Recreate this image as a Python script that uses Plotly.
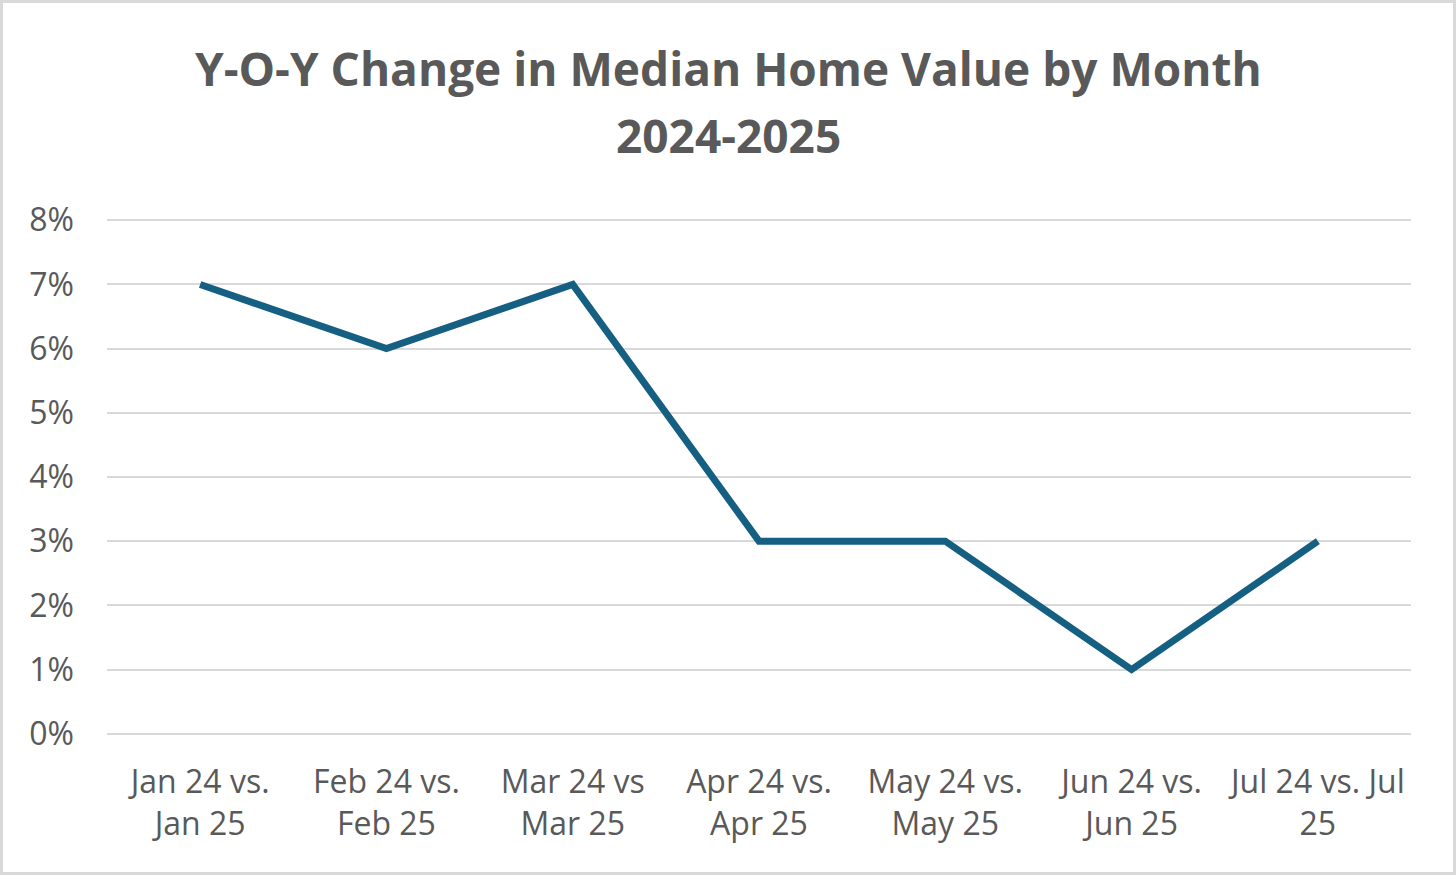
import plotly.graph_objects as go

categories = ["Jan 24 vs.<br>Jan 25", "Feb 24 vs.<br>Feb 25", "Mar 24 vs<br>Mar 25",
              "Apr 24 vs.<br>Apr 25", "May 24 vs.<br>May 25", "Jun 24 vs.<br>Jun 25",
              "Jul 24 vs. Jul<br>25"]
yoy_change = [0.07, 0.06, 0.07, 0.03, 0.03, 0.01, 0.03]
y_ticks = [0, 0.01, 0.02, 0.03, 0.04, 0.05, 0.06, 0.07, 0.08]
title_lines = ["<b>Y-O-Y Change in Median Home Value by Month</b>", "<b>2024-2025</b>"]

TEXT = "#595959"
W, H = 1456, 875
L, R, T, B = 107, 45, 219, 140
PW, PH = W - L - R, H - T - B

fig = go.Figure(go.Scatter(
    x=categories, y=yoy_change, mode="lines",
    line=dict(color="#156082", width=7),
    hoverinfo="skip",
))

fig.update_layout(
    width=W, height=H,
    paper_bgcolor="white", plot_bgcolor="white",
    margin=dict(l=L, r=R, t=T, b=B),
    showlegend=False,
    font=dict(family="Open Sans", color=TEXT),
    xaxis=dict(
        range=[-0.5, len(categories) - 0.5],
        showgrid=False, showline=False, zeroline=False,
        tickfont=dict(size=32, color=TEXT, family="Open Sans"),
        ticklabelstandoff=25,
    ),
    yaxis=dict(
        range=[-0.0002, 0.0802], tickvals=y_ticks, tickformat=".0%",
        showgrid=True, gridcolor="#d9d9d9", gridwidth=2,
        zeroline=False, showline=False,
        tickfont=dict(size=32, color=TEXT, family="Open Sans"),
        ticklabelstandoff=32,
    ),
    annotations=[
        dict(text=title_lines[0], xref="paper", yref="paper",
             x=(728 - L) / PW, y=1 + (T - 68) / PH, xanchor="center", yanchor="middle",
             showarrow=False, font=dict(size=46, color=TEXT, family="Open Sans")),
        dict(text=title_lines[1], xref="paper", yref="paper",
             x=(728 - L) / PW, y=1 + (T - 135) / PH, xanchor="center", yanchor="middle",
             showarrow=False, font=dict(size=46, color=TEXT, family="Open Sans")),
    ],
    shapes=[dict(type="rect", xref="paper", yref="paper",
                 x0=-(L - 1.5) / PW, x1=1 + (R - 1.5) / PW,
                 y0=-(B - 1.5) / PH, y1=1 + (T - 1.5) / PH,
                 line=dict(color="#d9d9d9", width=3), layer="below")],
)
fig.write_html("out.html", config={"displayModeBar": False},
               post_script="document.body.style.margin='0';document.body.style.overflow='hidden';")
